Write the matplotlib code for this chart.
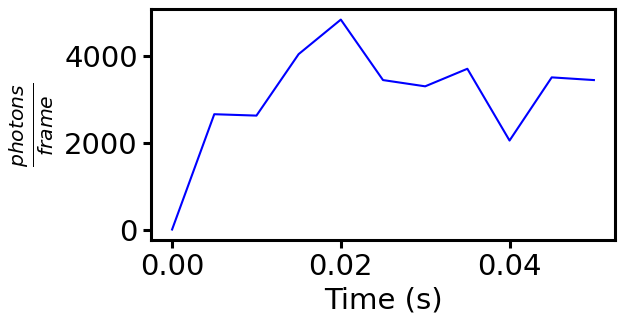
import matplotlib
matplotlib.use('Agg')
import matplotlib.pyplot as plt

time_s = [0.0, 0.005, 0.01, 0.015, 0.02, 0.025, 0.03, 0.035, 0.04, 0.045, 0.05]
photons_per_frame = [0, 2654, 2622, 4037, 4832, 3440, 3296, 3700, 2048, 3502, 3440]

plt.rcParams['font.size'] = 21

fig = plt.figure(figsize=(6.25, 3.25), dpi=100)
ax = fig.add_axes([0.2416, 0.2615, 0.7424, 0.7105])
ax.plot(time_s, photons_per_frame, color='blue', linewidth=1.5)

ax.set_xlabel('Time (s)', fontsize=21, labelpad=4)
ax.set_ylabel(r'$\frac{photons}{frame}$', fontsize=21, labelpad=6)
ax.set_xticks([0.0, 0.02, 0.04])
ax.set_xticklabels(['0.00', '0.02', '0.04'])
ax.set_yticks([0, 2000, 4000])
ax.tick_params(labelsize=21, width=2.2, length=6)
for s in ax.spines.values():
    s.set_linewidth(2.2)

fig.savefig('out.png', dpi=100)
